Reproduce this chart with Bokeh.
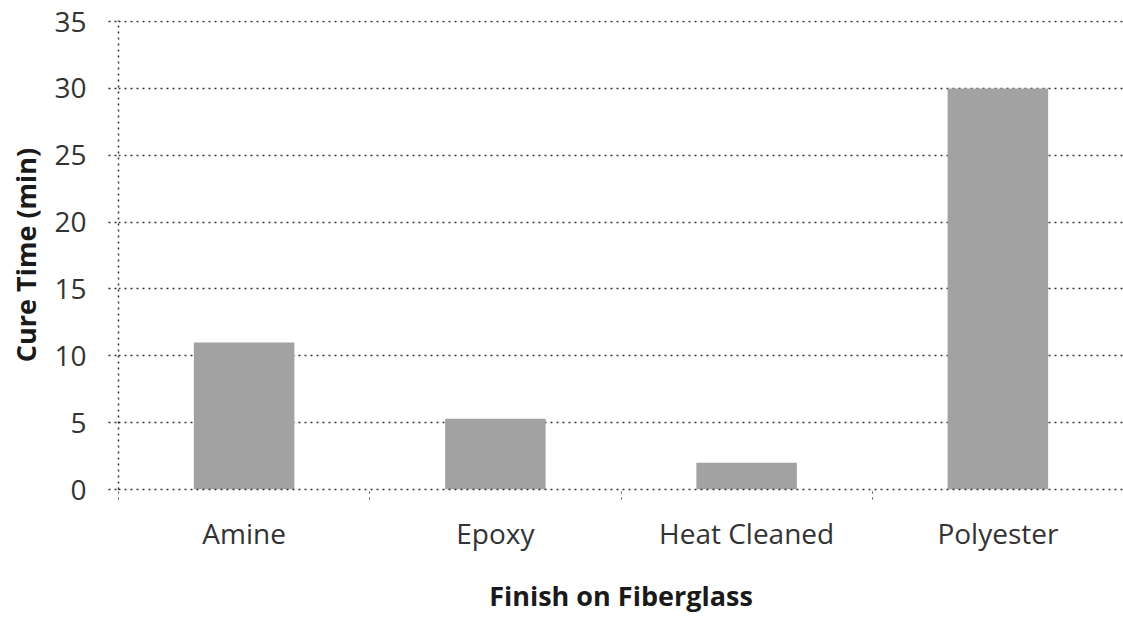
from bokeh.plotting import figure
from bokeh.models import FixedTicker, Range1d
from bokeh.embed import file_html
from bokeh.resources import INLINE

categories = ["Amine", "Epoxy", "Heat Cleaned", "Polyester"]
cure_time = [11, 5.3, 2, 30]
y_ticks = [0, 5, 10, 15, 20, 25, 30, 35]

centers = [i + 0.5 for i in range(len(categories))]
bounds = [i for i in range(len(categories) + 1)]

p = figure(width=1123, height=616, output_backend="svg", toolbar_location=None,
           x_range=Range1d(0, len(categories)), y_range=Range1d(0, 35.08),
           min_border_left=118, min_border_top=20, min_border_right=0, min_border_bottom=5)
p.outline_line_color = None
p.background_fill_color = "white"

p.vbar(x=centers, top=cure_time, width=0.4, fill_color="#a2a2a2", line_color=None)

TXT = "#333333"
FONT = "Open Sans"

# x axis
p.xaxis.ticker = FixedTicker(ticks=centers, minor_ticks=bounds)
p.xaxis.major_label_overrides = {c: lab for c, lab in zip(centers, categories)}
p.xaxis.major_tick_line_color = None
p.xaxis.minor_tick_in = 0
p.xaxis.minor_tick_out = 10
p.xaxis.minor_tick_line_color = "#555555"
p.xaxis.minor_tick_line_dash = "dotted"
p.xaxis.axis_line_color = "#333333"
p.xaxis.axis_line_dash = "dotted"
p.xaxis.axis_line_width = 1.5
p.xaxis.major_label_text_font = FONT
p.xaxis.major_label_text_font_size = "28px"
p.xaxis.major_label_text_color = TXT
p.xaxis.major_label_standoff = 14
p.xaxis.axis_label = "Finish on Fiberglass"
p.xaxis.axis_label_text_font = FONT
p.xaxis.axis_label_text_font_size = "27px"
p.xaxis.axis_label_text_font_style = "bold"
p.xaxis.axis_label_text_color = "#1a1a1a"
p.xaxis.axis_label_standoff = 22

# y axis
p.yaxis.ticker = FixedTicker(ticks=y_ticks)
p.yaxis.minor_tick_line_color = None
p.yaxis.major_tick_in = 0
p.yaxis.major_tick_out = 10
p.yaxis.major_tick_line_color = "#333333"
p.yaxis.major_tick_line_dash = "dotted"
p.yaxis.major_tick_line_width = 1.5
p.yaxis.axis_line_color = "#333333"
p.yaxis.axis_line_dash = "dotted"
p.yaxis.axis_line_width = 1.5
p.yaxis.major_label_text_font = FONT
p.yaxis.major_label_text_font_size = "28px"
p.yaxis.major_label_text_color = TXT
p.yaxis.major_label_standoff = 22
p.yaxis.axis_label = "Cure Time (min)"
p.yaxis.axis_label_text_font = FONT
p.yaxis.axis_label_text_font_size = "27px"
p.yaxis.axis_label_text_font_style = "bold"
p.yaxis.axis_label_text_color = "#1a1a1a"
p.yaxis.axis_label_standoff = 7

# grid
p.xgrid.grid_line_color = None
p.ygrid.ticker = FixedTicker(ticks=y_ticks)
p.ygrid.grid_line_color = "#333333"
p.ygrid.grid_line_dash = "dotted"
p.ygrid.grid_line_width = 1.5

open("out.html", "w").write(file_html(p, INLINE))
